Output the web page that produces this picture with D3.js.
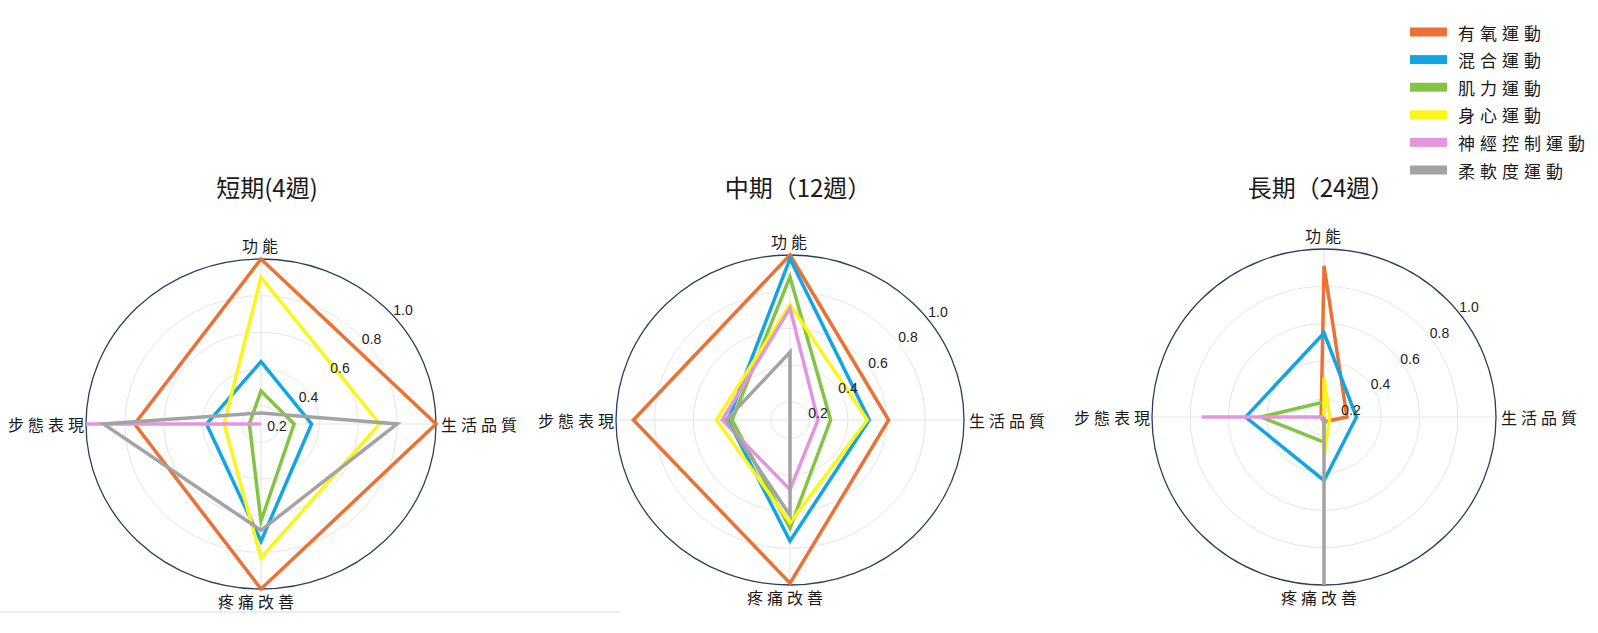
<!DOCTYPE html>
<html lang="zh-Hant">
<head>
<meta charset="UTF-8">
<title>運動類型雷達圖</title>
<script src="https://d3js.org/d3.v7.min.js"></script>
<style>
  body { margin: 0; background: #fff; }
  svg { display: block; }
  .cjk { font-family: "Noto Sans CJK TC", "Noto Sans CJK JP", sans-serif; fill: #1a1a1a; }
  .tick-label { font-family: "Liberation Sans", Arial, sans-serif; font-size: 14px; fill: #222; }
</style>
</head>
<body>
<svg id="chart" width="1598" height="633"></svg>
<script>
// axes, clockwise from the top
const categories = ['功能', '生活品質', '疼痛改善', '步態表現'];
const seriesNames = ['有氧運動', '混合運動', '肌力運動', '身心運動', '神經控制運動', '柔軟度運動'];
const periods = ['短期(4週)', '中期（12週）', '長期（24週）'];
const radialTicks = [0.2, 0.4, 0.6, 0.8, 1.0];

// values per series, in category order
const shortTerm = [
  [1.00, 1.00, 1.00, 0.75],
  [0.44, 0.36, 0.74, 0.38],
  [0.28, 0.27, 0.63, 0.16],
  [0.90, 0.71, 0.83, 0.29],
  [0.10, 0.10, 0.10, 1.00],
  [0.16, 0.80, 0.68, 0.91]
];
const midTerm = [
  [1.00, 0.61, 0.99, 0.91],
  [0.98, 0.51, 0.76, 0.42],
  [0.88, 0.31, 0.69, 0.40],
  [0.73, 0.50, 0.66, 0.48],
  [0.71, 0.245, 0.48, 0.45],
  [0.47, 0.10, 0.62, 0.43]
];
const longTerm = [
  [0.91, 0.22, 0.125, 0.115],
  [0.55, 0.27, 0.44, 0.51],
  [0.18, 0.10, 0.235, 0.43],
  [0.31, 0.13, 0.31, 0.10],
  [0.10, 0.10, 0.10, 0.74],
  [0.10, 0.10, 1.00, 0.10]
];
const periodValues = [shortTerm, midTerm, longTerm];

const colors = ['#ec7135', '#12a5e3', '#84c444', '#fbf51a', '#e495df', '#a3a3a3'];

// layout of the three polar panels (slightly squashed, as in the picture)
const panels = [
  { cx: 261, cy: 424, rx: 175, ry: 165, titleX: 267, tick: { dx: [16, 142], dy: [2, -114] } },
  { cx: 790, cy: 420, rx: 174, ry: 165, titleX: 798, tick: { dx: [28, 148], dy: [-7, -108] } },
  { cx: 1324, cy: 417, rx: 172, ry: 168, titleX: 1321, tick: { dx: [27, 145], dy: [-7, -110] } }
];

const svg = d3.select('#chart');

svg.append('rect').attr('width', 1598).attr('height', 633).attr('fill', '#fff');

// faint rule under the first panel
svg.append('line')
  .attr('x1', 0).attr('x2', 620)
  .attr('y1', 612).attr('y2', 612)
  .attr('stroke', '#ededed')
  .attr('stroke-width', 2);

// radial scale: range starts a bit above zero
const r = d3.scaleLinear().domain([0.1, 1.0]).range([0, 1]).clamp(true);
const angle = d3.scalePoint().domain(categories).range([0, 2 * Math.PI * 3 / 4]);

panels.forEach((p, pi) => {
  const g = svg.append('g');
  const px = (cat, v) => p.cx + p.rx * r(v) * Math.sin(angle(cat));
  const py = (cat, v) => p.cy - p.ry * r(v) * Math.cos(angle(cat));

  // grid rings
  g.selectAll('.ring')
    .data(radialTicks.slice(0, -1))
    .enter()
    .append('ellipse')
    .attr('cx', p.cx).attr('cy', p.cy)
    .attr('rx', d => p.rx * r(d))
    .attr('ry', d => p.ry * r(d))
    .attr('fill', 'none')
    .attr('stroke', '#e6e6e6')
    .attr('stroke-width', 1);

  // spokes
  g.selectAll('.spoke')
    .data(categories)
    .enter()
    .append('line')
    .attr('x1', p.cx).attr('y1', p.cy)
    .attr('x2', d => px(d, 1))
    .attr('y2', d => py(d, 1))
    .attr('stroke', '#e3e3e3')
    .attr('stroke-width', 1);

  // outer frame
  g.append('ellipse')
    .attr('cx', p.cx).attr('cy', p.cy)
    .attr('rx', p.rx).attr('ry', p.ry)
    .attr('fill', 'none')
    .attr('stroke', '#2a3f5f')
    .attr('stroke-width', 1.3);

  // series polygons
  const line = d3.line()
    .x(d => px(d.cat, d.v))
    .y(d => py(d.cat, d.v))
    .curve(d3.curveLinearClosed);

  periodValues[pi].forEach((vals, si) => {
    g.append('path')
      .datum(categories.map((c, i) => ({ cat: c, v: vals[i] })))
      .attr('d', line)
      .attr('fill', 'none')
      .attr('stroke', colors[si])
      .attr('stroke-width', 3.5)
      .attr('stroke-linejoin', 'miter')
      .attr('stroke-miterlimit', 10);
  });

  // radial tick labels
  const tx = d3.scaleLinear().domain([0.2, 1.0]).range(p.tick.dx);
  const ty = d3.scaleLinear().domain([0.2, 1.0]).range(p.tick.dy);
  g.selectAll('.tick-label')
    .data(radialTicks)
    .enter()
    .append('text')
    .attr('class', 'tick-label')
    .attr('x', d => p.cx + tx(d))
    .attr('y', d => p.cy + ty(d))
    .attr('text-anchor', 'middle')
    .attr('dominant-baseline', 'central')
    .text(d => d.toFixed(1));

  // category labels
  const lab = [
    { x: p.cx + 1, y: p.cy - p.ry - 14, anchor: 'middle' },
    { x: p.cx + p.rx + 5, y: p.cy, anchor: 'start' },
    { x: p.cx - 3, y: p.cy + p.ry + 12, anchor: 'middle' },
    { x: p.cx - p.rx + 2, y: p.cy, anchor: 'end' }
  ];
  categories.forEach((c, i) => {
    g.append('text')
      .attr('class', 'cjk')
      .attr('x', lab[i].x)
      .attr('y', lab[i].y)
      .attr('text-anchor', lab[i].anchor)
      .attr('dominant-baseline', 'central')
      .style('font-size', '16px')
      .style('letter-spacing', '4px')
      .text(c);
  });

  // panel title
  g.append('text')
    .attr('class', 'cjk')
    .attr('x', p.titleX)
    .attr('y', 186)
    .attr('text-anchor', 'middle')
    .attr('dominant-baseline', 'central')
    .style('font-size', '24px')
    .text(periods[pi]);
});

// legend
const legend = svg.append('g');
const ly = d3.scalePoint().domain(seriesNames).range([32, 170]);
legend.selectAll('rect')
  .data(seriesNames)
  .enter()
  .append('rect')
  .attr('x', 1410)
  .attr('y', d => ly(d) - 4.5)
  .attr('width', 37)
  .attr('height', 9)
  .attr('fill', (d, i) => colors[i]);
legend.selectAll('text')
  .data(seriesNames)
  .enter()
  .append('text')
  .attr('class', 'cjk')
  .attr('x', 1458)
  .attr('y', d => ly(d))
  .attr('dominant-baseline', 'central')
  .style('font-size', '17px')
  .style('letter-spacing', '5px')
  .text(d => d);
</script>
</body>
</html>
